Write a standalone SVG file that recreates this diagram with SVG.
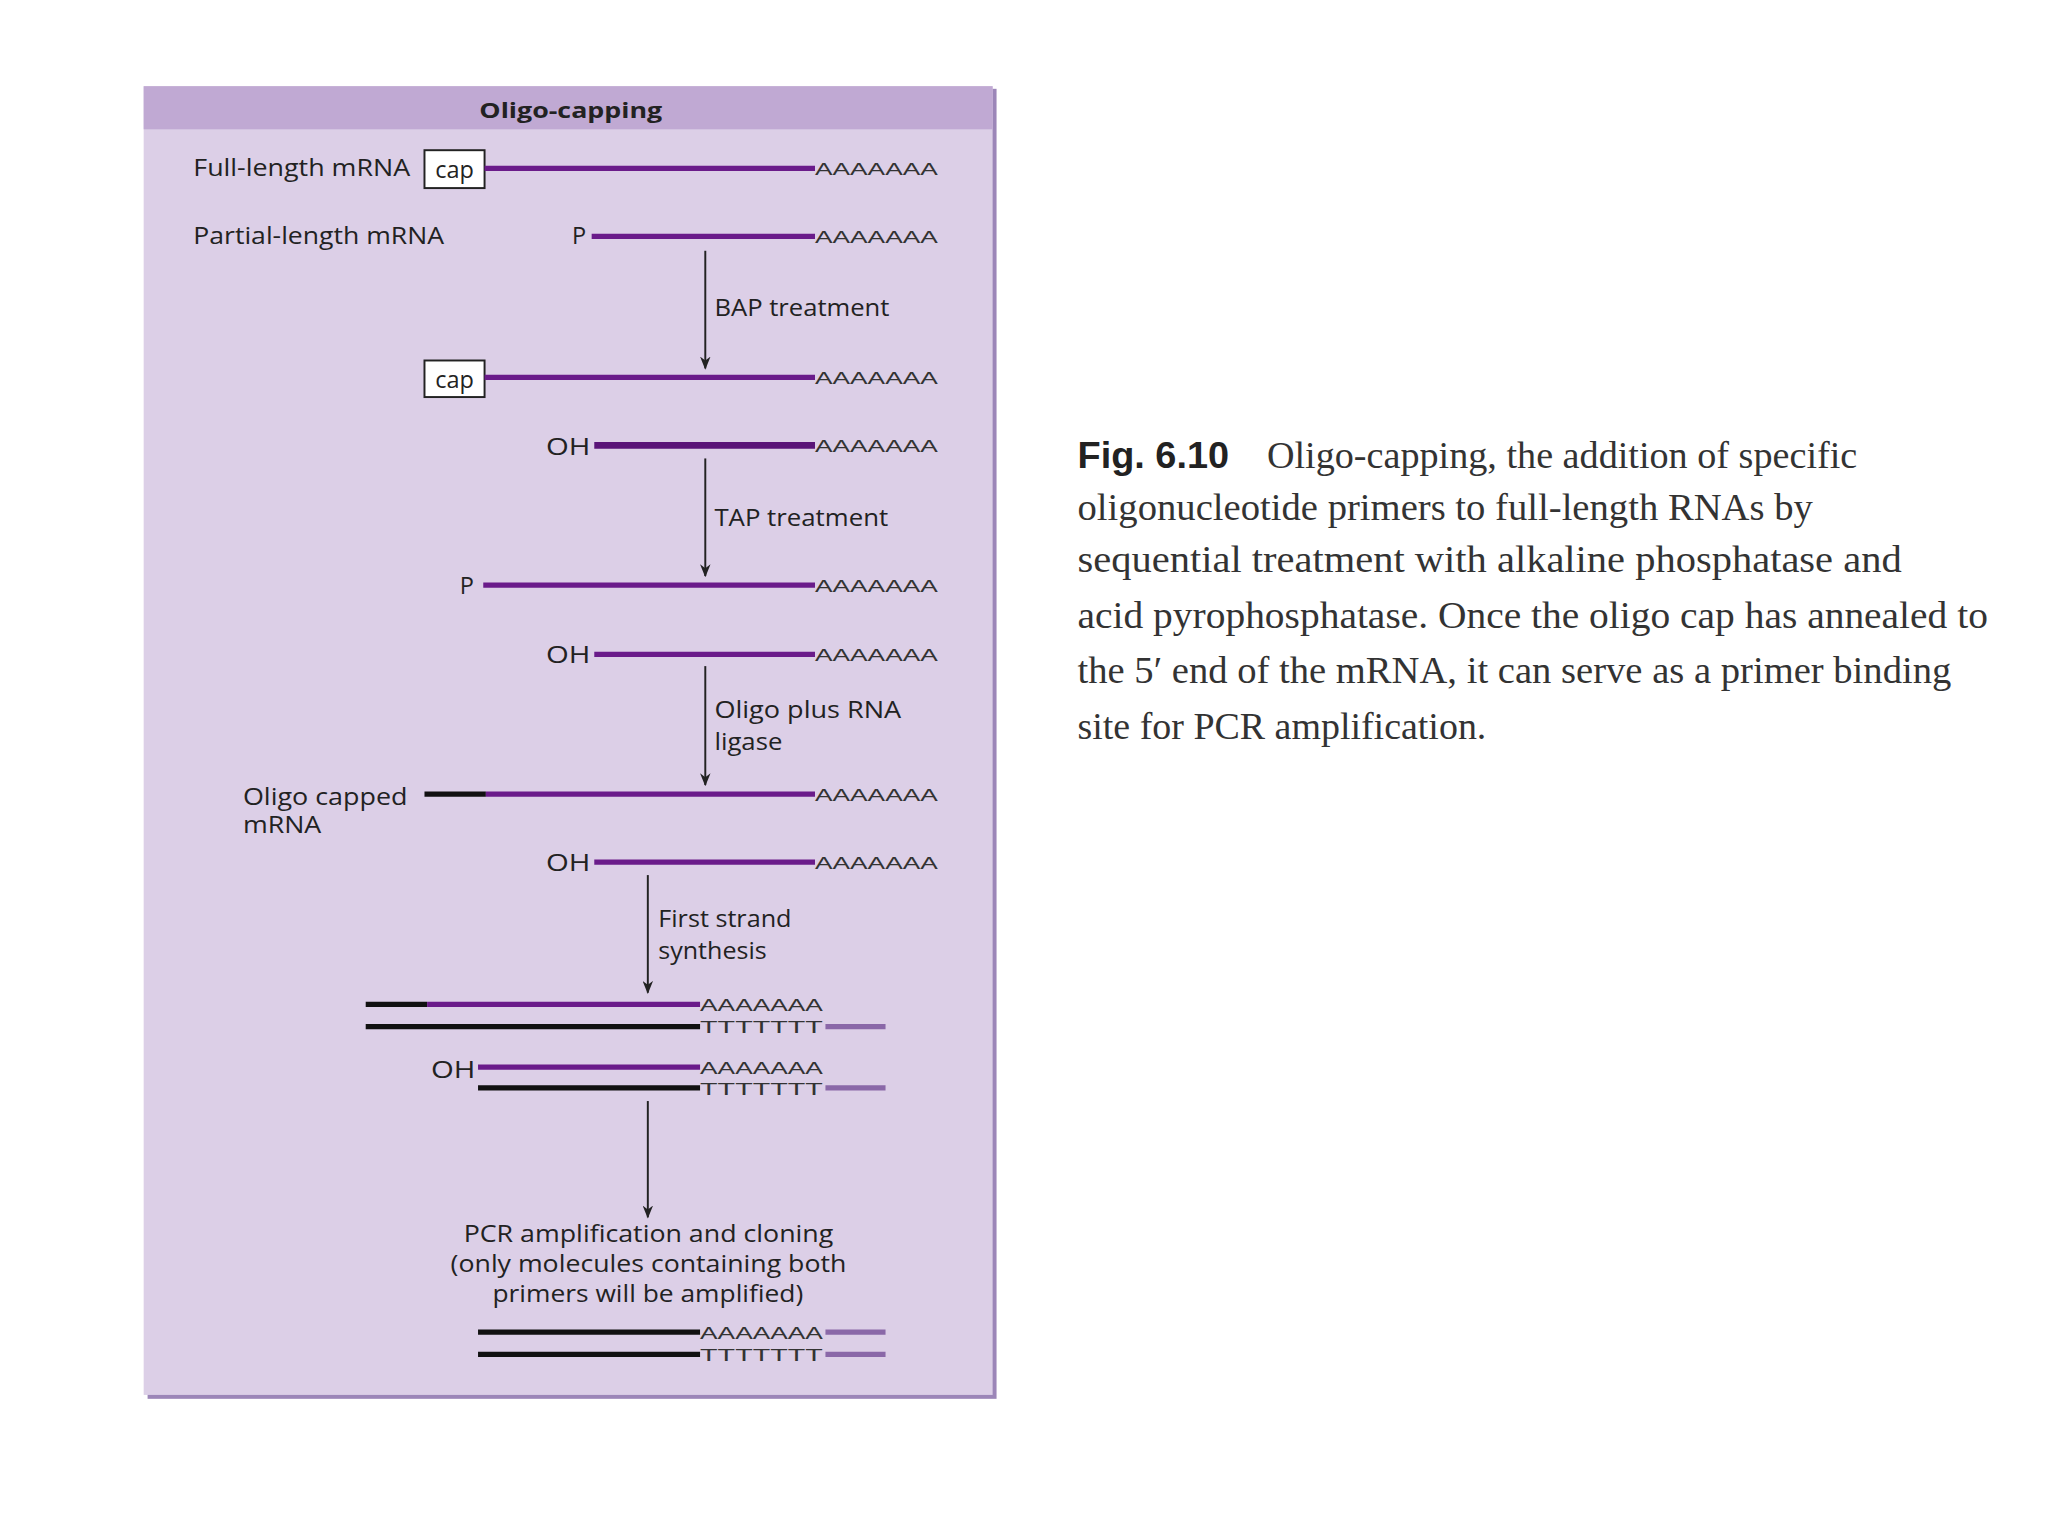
<svg xmlns="http://www.w3.org/2000/svg" width="2048" height="1536" viewBox="0 0 2048 1536">
<defs>
<style>
.t{font-family:"Open Sans","Liberation Sans",sans-serif;font-size:18px;fill:#222}
.a{font-family:"Liberation Sans",sans-serif;font-size:13px;fill:#333}
.p{stroke:#6a1b8a;stroke-width:4}
.k{stroke:#111;stroke-width:4}
.lp{stroke:#8a68a8;stroke-width:4}
.ar{stroke:#222;stroke-width:1.5;marker-end:url(#m)}
.c{font-family:"Liberation Serif",serif;font-size:29px;fill:#333}
</style>
<marker id="m" markerWidth="10" markerHeight="8" refX="9" refY="4" orient="auto" markerUnits="userSpaceOnUse" viewBox="0 0 10 8"><path d="M0,0 L10,4 L0,8 L3,4 Z" fill="#222"/></marker>
</defs>
<rect width="2048" height="1536" fill="#fff"/>
<g transform="scale(1.3061)">
<g id="panel">
<rect x="113" y="68" width="650" height="1003" fill="#9c86b8"/>
<rect x="110" y="66" width="650" height="1002" fill="#dccfe7"/>
<rect x="110" y="66" width="650" height="33" fill="#c0a9d3"/>
<text x="367" y="90" class="t" style="font-weight:bold;font-size:17px" textLength="140" lengthAdjust="spacingAndGlyphs">Oligo-capping</text>
</g>
<g id="connectors">
<line x1="540" y1="192" x2="540" y2="282" class="ar"/>
<line x1="540" y1="351" x2="540" y2="441" class="ar"/>
<line x1="540" y1="510" x2="540" y2="601" class="ar"/>
<line x1="496" y1="670" x2="496" y2="760" class="ar"/>
<line x1="496" y1="843" x2="496" y2="932" class="ar"/>
</g>
<g id="row1">
<text x="148" y="135" class="t" textLength="166" lengthAdjust="spacingAndGlyphs">Full-length mRNA</text>
<rect x="325" y="115" width="46" height="29" fill="#fff" stroke="#222" stroke-width="1.5"/>
<text x="348" y="136" class="t" text-anchor="middle">cap</text>
<line x1="371" y1="129" x2="624" y2="129" class="p"/><text x="624" y="134" class="a" textLength="94" lengthAdjust="spacingAndGlyphs">AAAAAAA</text>
</g>
<g id="row2">
<text x="148" y="187" class="t" textLength="192" lengthAdjust="spacingAndGlyphs">Partial-length mRNA</text>
<text x="438" y="187" class="t">P</text>
<line x1="453" y1="181" x2="624" y2="181" class="p"/><text x="624" y="186" class="a" textLength="94" lengthAdjust="spacingAndGlyphs">AAAAAAA</text>
<text x="547" y="242" class="t" textLength="134" lengthAdjust="spacingAndGlyphs">BAP treatment</text>
</g>
<g id="row3">
<rect x="325" y="276" width="46" height="28" fill="#fff" stroke="#222" stroke-width="1.5"/>
<text x="348" y="297" class="t" text-anchor="middle">cap</text>
<line x1="371" y1="289" x2="624" y2="289" class="p"/><text x="624" y="294" class="a" textLength="94" lengthAdjust="spacingAndGlyphs">AAAAAAA</text>
</g>
<g id="row4">
<text x="418" y="348" class="t" textLength="34" lengthAdjust="spacingAndGlyphs">OH</text>
<line x1="455" y1="341" x2="624" y2="341" class="p" style="stroke-width:5;stroke:#5a1478"/><text x="624" y="346" class="a" textLength="94" lengthAdjust="spacingAndGlyphs">AAAAAAA</text>
<text x="547" y="403" class="t" textLength="133" lengthAdjust="spacingAndGlyphs">TAP treatment</text>
</g>
<g id="row5">
<text x="352" y="455" class="t">P</text>
<line x1="370" y1="448" x2="624" y2="448" class="p"/><text x="624" y="453" class="a" textLength="94" lengthAdjust="spacingAndGlyphs">AAAAAAA</text>
</g>
<g id="row6">
<text x="418" y="508" class="t" textLength="34" lengthAdjust="spacingAndGlyphs">OH</text>
<line x1="455" y1="501" x2="624" y2="501" class="p"/><text x="624" y="506" class="a" textLength="94" lengthAdjust="spacingAndGlyphs">AAAAAAA</text>
<text x="547" y="550" class="t" textLength="143" lengthAdjust="spacingAndGlyphs">Oligo plus RNA</text>
<text x="547" y="574" class="t" textLength="52" lengthAdjust="spacingAndGlyphs">ligase</text>
</g>
<g id="row7">
<text x="186" y="616" class="t" textLength="126" lengthAdjust="spacingAndGlyphs">Oligo capped</text>
<text x="186" y="638" class="t" textLength="60" lengthAdjust="spacingAndGlyphs">mRNA</text>
<line x1="325" y1="608" x2="372" y2="608" class="k"/>
<line x1="372" y1="608" x2="624" y2="608" class="p"/><text x="624" y="613" class="a" textLength="94" lengthAdjust="spacingAndGlyphs">AAAAAAA</text>
</g>
<g id="row8">
<text x="418" y="667" class="t" textLength="34" lengthAdjust="spacingAndGlyphs">OH</text>
<line x1="455" y1="660" x2="624" y2="660" class="p"/><text x="624" y="665" class="a" textLength="94" lengthAdjust="spacingAndGlyphs">AAAAAAA</text>
<text x="504" y="710" class="t" textLength="102" lengthAdjust="spacingAndGlyphs">First strand</text>
<text x="504" y="734" class="t" textLength="83" lengthAdjust="spacingAndGlyphs">synthesis</text>
</g>
<g id="row9">
<line x1="280" y1="769" x2="327" y2="769" class="k"/>
<line x1="327" y1="769" x2="536" y2="769" class="p"/><text x="536" y="774" class="a" textLength="94" lengthAdjust="spacingAndGlyphs">AAAAAAA</text>
<line x1="280" y1="786" x2="536" y2="786" class="k"/><text x="536" y="791" class="a" textLength="94" lengthAdjust="spacingAndGlyphs">TTTTTTT</text>
<line x1="632" y1="786" x2="678" y2="786" class="lp"/>
</g>
<g id="row10">
<text x="330" y="825" class="t" textLength="34" lengthAdjust="spacingAndGlyphs">OH</text>
<line x1="366" y1="817" x2="536" y2="817" class="p"/><text x="536" y="822" class="a" textLength="94" lengthAdjust="spacingAndGlyphs">AAAAAAA</text>
<line x1="366" y1="833" x2="536" y2="833" class="k"/><text x="536" y="838" class="a" textLength="94" lengthAdjust="spacingAndGlyphs">TTTTTTT</text>
<line x1="632" y1="833" x2="678" y2="833" class="lp"/>
</g>
<g id="pcr">
<text x="355" y="951" class="t" textLength="283" lengthAdjust="spacingAndGlyphs">PCR amplification and cloning</text>
<text x="345" y="974" class="t" textLength="303" lengthAdjust="spacingAndGlyphs">(only molecules containing both</text>
<text x="377" y="997" class="t" textLength="238" lengthAdjust="spacingAndGlyphs">primers will be amplified)</text>
</g>
<g id="row11">
<line x1="366" y1="1020" x2="536" y2="1020" class="k"/><text x="536" y="1025" class="a" textLength="94" lengthAdjust="spacingAndGlyphs">AAAAAAA</text>
<line x1="632" y1="1020" x2="678" y2="1020" class="lp"/>
<line x1="366" y1="1037" x2="536" y2="1037" class="k"/><text x="536" y="1042" class="a" textLength="94" lengthAdjust="spacingAndGlyphs">TTTTTTT</text>
<line x1="632" y1="1037" x2="678" y2="1037" class="lp"/>
</g>
<g id="caption">
<text x="825" y="358" class="c" style="font-family:'Liberation Sans',sans-serif;font-weight:bold;font-size:28px;fill:#222" textLength="116" lengthAdjust="spacingAndGlyphs">Fig. 6.10</text>
<text x="970" y="358" class="c" textLength="452" lengthAdjust="spacingAndGlyphs">Oligo-capping, the addition of specific</text>
<text x="825" y="398" class="c" textLength="563" lengthAdjust="spacingAndGlyphs">oligonucleotide primers to full-length RNAs by</text>
<text x="825" y="438" class="c" textLength="631" lengthAdjust="spacingAndGlyphs">sequential treatment with alkaline phosphatase and</text>
<text x="825" y="481" class="c" textLength="697" lengthAdjust="spacingAndGlyphs">acid pyrophosphatase. Once the oligo cap has annealed to</text>
<text x="825" y="523" class="c" textLength="669" lengthAdjust="spacingAndGlyphs">the 5′ end of the mRNA, it can serve as a primer binding</text>
<text x="825" y="566" class="c" textLength="313" lengthAdjust="spacingAndGlyphs">site for PCR amplification.</text>
</g>
</g>
</svg>
